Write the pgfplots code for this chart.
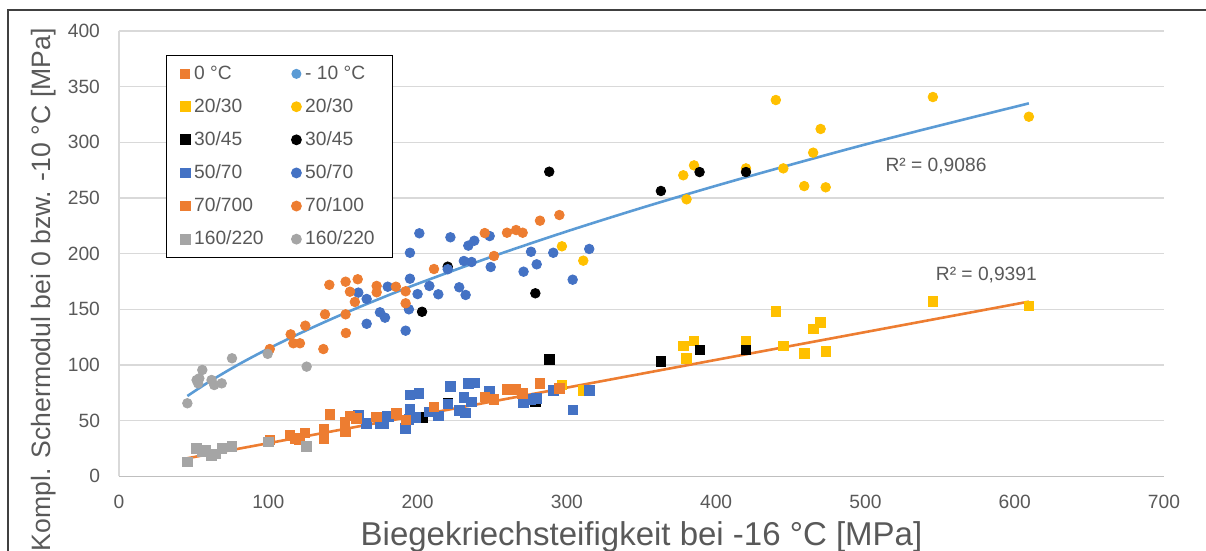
\documentclass[border=0pt]{standalone}
\usepackage{fontspec}
\setmainfont{Liberation Sans}
\usepackage{pgfplots}
\pgfplotsset{compat=1.18}
\definecolor{cOrange}{HTML}{ED7D31}
\definecolor{cBlue}{HTML}{4472C4}
\definecolor{cLBlue}{HTML}{5B9BD5}
\definecolor{cYellow}{HTML}{FFC000}
\definecolor{cGrey}{HTML}{A5A5A5}
\definecolor{cText}{HTML}{595959}
\definecolor{cGrid}{HTML}{D9D9D9}
\definecolor{cAxis}{HTML}{BFBFBF}
\begin{document}
\begin{tikzpicture}
\begin{axis}[
  scale only axis, width=522.5pt, height=222.65pt,
  xmin=0, xmax=700, ymin=0, ymax=400,
  xtick={0,100,...,700}, ytick={0,50,...,400},
  ymajorgrids, major grid style={cGrid, line width=0.6pt},
  axis x line*=bottom, axis y line*=left,
  x axis line style={cAxis, line width=0.6pt},
  y axis line style={cGrid, line width=0.6pt},
  major tick length=0pt,
  tick label style={font=\fontsize{9.6}{11}\selectfont, text=cText},
  /pgf/number format/assume math mode=true,
  xticklabel style={yshift=-6pt},
  yticklabel style={xshift=-6pt},
  legend columns=2,
  legend cell align=left,
  legend style={at={(0.045,0.946)}, anchor=north west, draw=black, line width=0.6pt, fill=white,
    font=\fontsize{9.6}{11}\selectfont, text=cText, inner xsep=7pt, inner ysep=3pt,
    row sep=4.1pt,
    /tikz/every even column/.append style={column sep=12pt}},
  legend image code/.code={\draw[#1] plot coordinates {(0.1cm,0cm)};},
]
% trend lines
\addplot[cLBlue, line width=1.3pt, smooth, forget plot] coordinates {
(45.8,72.1)(60,84.6)(80,100.4)(100,114.6)(125,130.8)(150,145.8)(175,159.7)(200,172.9)
(250,197.4)(300,220.0)(350,241.1)(400,261.0)(450,279.9)(500,298.1)(550,315.2)(609.5,335)};
\addplot[cOrange, line width=1.3pt, forget plot] coordinates {(45.8,16.2)(609.5,156.9)};

\addlegendimage{only marks, mark=square*, mark size=2.2pt, color=cOrange}
\addlegendentry{0 °C}
\addlegendimage{only marks, mark=*, mark size=2.2pt, color=cLBlue}
\addlegendentry{- 10 °C}

% 20/30
\addplot[only marks, mark=square*, mark size=2.4pt, color=cYellow] coordinates {
(296.7,82)(311,77)(378,117)(385.2,121.5)(380.2,106)(420,121.5)(440,148)(445,117)
(465,132.3)(470,138)(459,110.5)(473.4,112)(545.2,156.9)(609.5,153)};
\addlegendentry{20/30}
\addplot[only marks, mark=*, mark size=2.4pt, color=cYellow] coordinates {
(296.7,206.6)(311,193.7)(378,270.4)(385.2,279.3)(380.2,248.8)(420,276.6)(440,338)(445,276.6)
(465,290.7)(470,312)(459,260.7)(473.4,259.6)(545.2,340.7)(609.5,323)};
\addlegendentry{20/30}

% 30/45
\addplot[only marks, mark=square*, mark size=2.4pt, color=black] coordinates {
(203.2,53)(220.2,66)(278.9,67)(288.2,105)(363,103)(389,113.4)(420,113.4)};
\addlegendentry{30/45}
\addplot[only marks, mark=*, mark size=2.4pt, color=black] coordinates {
(203,147.8)(220.2,188.3)(278.9,164.4)(288.2,273.6)(363,256.3)(388.9,273.3)(420,273.3)};
\addlegendentry{30/45}

% 50/70
\addplot[only marks, mark=square*, mark size=2.4pt, color=cBlue] coordinates {
(160.3,55)(165.9,47.6)(174.8,47.6)(180.4,53.5)(177.5,47)(179.7,54.2)(192,43)(194.9,73)
(194.9,60.2)(201,74.5)(198.7,53)(213.9,54.2)(207.9,58)(222,80.5)(220.2,65)(228,59)
(232.2,57)(231,71)(236.2,67)(234,83.5)(238,84)(248.3,76)(271,66)(279.8,70)(290.9,77)
(315,77)(304,59.5)(276,69)(194.2,51)};
\addlegendentry{50/70}
\addplot[only marks, mark=*, mark size=2.4pt, color=cBlue] coordinates {
(160.3,165)(165.9,159.3)(165.9,137)(174.8,147.3)(178.2,142.5)(180,170.3)(201.2,218.3)
(194.9,200.8)(194.9,177.5)(220.2,186)(222,214.7)(234,207.2)(238,211.6)(231,193.4)
(236.2,192.5)(248.3,215.8)(249,188)(315,204.2)(303.9,176.6)(290.9,200.8)(276,201.7)
(279.8,190.4)(271,183.8)(207.9,171)(213.9,163.5)(227.9,169.8)(232.2,162.9)(200,163.7)
(194.2,150)(192,130.8)};
\addlegendentry{50/70}

% 70/100
\addplot[only marks, mark=square*, mark size=2.4pt, color=cOrange] coordinates {
(101,32.6)(114.5,37)(118,34)(121,33)(124.6,39)(137.3,33.5)(137.3,42.5)(141.3,55.7)
(151.4,43)(151.4,49)(151.8,40)(154.7,54.2)(159.2,52)(172.6,53.5)(186,56.6)(192.2,50.6)
(211,62.5)(245.2,71.5)(251.2,69)(260,78)(266,78)(270.4,74.5)(282,83.5)(295,79)};
\addlegendentry{70/700}
\addplot[only marks, mark=*, mark size=2.4pt, color=cOrange] coordinates {
(101,114.3)(115,127.5)(116.8,119.5)(121.2,119.5)(124.8,135.3)(136.9,114.3)(138,145.5)
(140.9,172)(151.8,174.8)(151.8,145.5)(152,128.7)(154.7,165.8)(158,156.6)(159.9,177)
(172.6,171)(172.6,165.3)(185.5,170.3)(211,186.2)(245,218.5)(251.2,197.9)(259.9,218.8)
(266,221.2)(270.4,218.8)(282,229.6)(295,234.7)(192,166.2)(192,155.4)};
\addlegendentry{70/100}

% 160/220
\addplot[only marks, mark=square*, mark size=2.4pt, color=cGrey] coordinates {
(45.8,13)(52,25)(55.4,22)(58,23)(62,19)(65,20)(68.8,25)(75.5,26.6)(100,31)(125.7,26.6)};
\addlegendentry{160/220}
\addplot[only marks, mark=*, mark size=2.4pt, color=cGrey] coordinates {
(45.8,65.6)(52,86.5)(55.8,95.5)(53.8,88)(53,83.5)(62,86.5)(63.8,82)(68.8,83.5)
(75.7,106)(99.6,110)(125.7,98.5)};
\addlegendentry{160/220}

\node[font=\fontsize{9.6}{11}\selectfont, text=cText] at (axis cs:547.3,279) {R² = 0,9086};
\node[font=\fontsize{9.6}{11}\selectfont, text=cText] at (axis cs:581,180.8) {R² = 0,9391};
\end{axis}
% axis titles
\node[font=\fontsize{16.5}{19}\selectfont, text=cText, anchor=base, inner sep=0pt] at (261.25pt,-34.85pt) {Biegekriechsteifigkeit bei -16 °C [MPa]};
\node[font=\fontsize{13.3}{16}\selectfont, text=cText, anchor=base east, rotate=90, inner sep=0pt] at (-34pt,224.15pt) {Kompl. Schermodul bei 0 bzw. -10 °C [MPa]};
% frame
\draw[black!75, line width=0.7pt] (-55.5pt,-37.35pt) -- (-55.5pt,233.15pt) -- (543.5pt,233.15pt);
\pgfresetboundingbox
\path[use as bounding box] (-59.5pt,-37.35pt) rectangle (543.5pt,238.15pt);
\end{tikzpicture}
\end{document}
